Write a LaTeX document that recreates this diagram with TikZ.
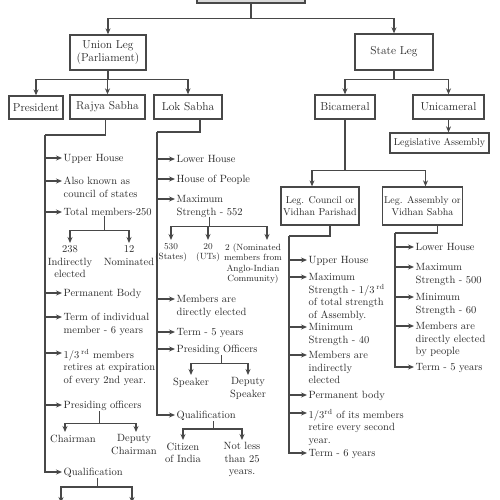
\documentclass[tikz,border=0pt]{standalone}
\usepackage{xcolor}
\usepackage{tikz}
\usetikzlibrary{arrows.meta,calc,positioning}
\definecolor{inkgray}{HTML}{282828}
\definecolor{linegray}{HTML}{484848}
\definecolor{rootfill}{HTML}{D9D9D9}

\begin{document}
\begin{tikzpicture}[
  x=1pt,y=-1pt,
  box/.style={draw=linegray,line width=1.3pt,fill=white,align=center,text=inkgray,
    font=\fontsize{11.5}{13.5}\selectfont,inner sep=2pt},
  legbox/.style={box,font=\fontsize{10}{12.5}\selectfont},
  item/.style={anchor=north west,yshift=3.8pt,align=left,inner xsep=1.5pt,inner ysep=0pt,
    text=inkgray,font=\fontsize{10.5}{12.5}\selectfont},
  leaf/.style={anchor=north,align=center,inner xsep=1pt,inner ysep=2.5pt,text=inkgray,
    font=\fontsize{10.5}{12.5}\selectfont},
  smallleaf/.style={leaf,inner ysep=3.5pt,font=\fontsize{9}{10.3}\selectfont},
  link/.style={draw=linegray,line width=1.1pt},
  edge/.style={link,-{Stealth[length=6pt,width=5pt]}}
]
  \useasboundingbox (0,0) rectangle (500,500);

  \node[box,fill=rootfill,minimum width=108pt,minimum height=30pt] (root) at (251,-12) {};
  \node[box,minimum width=76pt,minimum height=35pt] (ul) at (108,52.5) {Union Leg\\(Parliament)};
  \node[box,minimum width=78pt,minimum height=36pt] (sl) at (394,52) {State Leg};
  \node[box,minimum width=54pt,minimum height=23pt] (pr) at (36,107.5) {President};
  \node[box,minimum width=75pt,minimum height=24pt] (rs) at (107.5,107) {Rajya Sabha};
  \node[box,minimum width=68pt,minimum height=24pt] (ls) at (188,107) {Lok Sabha};
  \node[box,minimum width=60pt,minimum height=24pt] (bc) at (345,107) {Bicameral};
  \node[box,minimum width=71pt,minimum height=24pt] (uc) at (448.5,107) {Unicameral};
  \node[legbox,minimum width=99pt,minimum height=20pt] (la) at (439.5,143) {Legislative Assembly};
  \node[legbox,minimum width=78pt,minimum height=38pt] (lc) at (320,206) {Leg. Council or\\Vidhan Parishad};
  \node[legbox,minimum width=79pt,minimum height=38pt] (lv) at (422.5,206) {Leg. Assembly or\\Vidhan Sabha};

  \draw[link] (root.south) -- ++(0,15) coordinate (rootj);
  \draw[edge] (rootj) -| (ul);
  \draw[edge] (rootj) -| (sl);
  \draw[link] (ul.south) -- ++(0,9) coordinate (ulj);
  \foreach \n in {pr,rs,ls} \draw[edge] (ulj) -| (\n);
  \draw[link] (sl.south) -- ++(0,9) coordinate (slj);
  \foreach \n in {bc,uc} \draw[edge] (slj) -| (\n);
  \draw[edge] (uc.south) -- (uc.south |- la.north);
  \draw[link] (bc.south) -- ++(0,51) coordinate (bcj);
  \draw[edge] (bcj) -| ([xshift=-8pt]lc.north);
  \draw[edge] (bcj) -| ([xshift=3pt]lv.north);

  % Rajya Sabha
  \coordinate (rsk) at (45,135);
  \draw[link] ([xshift=-2pt]rs.south) |- (rsk);
  \foreach \n/\y/\txt in {
    ru1/158/{Upper House},
    ru2/181/{Also known as\\council of states},
    ru3/212/{Total members-250},
    ru4/293/{Permanent Body},
    ru5/317/{Term of individual\\member - 6 years},
    ru6/353/{1/3\,\textsuperscript{rd} members\\retires at expiration\\of every 2nd year.},
    ru7/405/{Presiding officers},
    rq/472/{Qualification}}
    \node[item] (\n) at (62,\y) {\txt};
  \foreach \n in {ru1,ru2,ru3,ru4,ru5,ru6,ru7}
    \draw[edge] ($(rsk |- \n.north)+(0,3.8)$) -- ($(\n.north west)+(0,3.8)$);
  \draw[edge] (rsk) |- ($(rq.north west)+(0,3.8)$);

  \node[leaf] (r238) at (70,243) {238\\Indirectly\\elected};
  \node[leaf] (r12) at (129,243) {12\\Nominated};
  \draw[link] ([xshift=-3pt]ru3.south) -- ++(0,14) coordinate (ru3j);
  \draw[edge] (ru3j) -| (r238);
  \draw[edge] (ru3j) -| (r12);

  \node[leaf] (rch) at (73,432) {Chairman};
  \node[leaf] (rdc) at (134,432) {Deputy\\Chairman};
  \draw[link] ([xshift=-3pt]ru7.south) -- ++(0,12) coordinate (ru7j);
  \draw[edge] (ru7j) -| ([xshift=-8pt]rch.north);
  \draw[edge] (ru7j) -| ([xshift=2pt]rdc.north);

  \coordinate (rqa) at (61,503);
  \coordinate (rqb) at (132,503);
  \draw[link] ([xshift=4pt]rq.south) -- ++(0,9) coordinate (rqj);
  \draw[edge] (rqj) -| (rqa);
  \draw[edge] (rqj) -| (rqb);

  % Lok Sabha
  \coordinate (lsk) at (157,132);
  \draw[link] ([xshift=12pt]ls.south) |- (lsk);
  \foreach \n/\y/\txt in {
    lu1/159/{Lower House},
    lu2/179/{House of People},
    lu3/199/{Maximum\\Strength - 552},
    lu4/299/{Members are\\directly elected},
    lu5/332/{Term - 5 years},
    lu6/349/{Presiding Officers},
    lq/415/{Qualification}}
    \node[item] (\n) at (175,\y) {\txt};
  \foreach \n in {lu1,lu2,lu3,lu4,lu5,lu6}
    \draw[edge] ($(lsk |- \n.north)+(0,3.8)$) -- ($(\n.north west)+(0,3.8)$);
  \draw[edge] (lsk) |- ($(lq.north west)+(0,3.8)$);

  \node[smallleaf] (l530) at (171,240) {530\\(States)};
  \node[smallleaf] (l20) at (208,240) {20\\(UTs)};
  \node[smallleaf] (l2) at (253,240) {2 (Nominated\\members from\\Anglo-Indian\\Community)};
  \draw[link] (lu3.south) -- ++(0,9) coordinate (lu3j);
  \draw[edge] (lu3j) -| (l530);
  \draw[edge] (lu3j) -| (l20);
  \draw[edge] (lu3j) -| ([xshift=14pt]l2.north);

  \node[leaf] (lsp) at (191,375) {Speaker};
  \node[leaf] (ldsp) at (248,375) {Deputy\\Speaker};
  \draw[link] ([xshift=4pt]lu6.south) -- ++(0,8) coordinate (lu6j);
  \draw[edge] (lu6j) -| (lsp);
  \draw[edge] (lu6j) -| (ldsp);

  \node[leaf] (lci) at (183,440) {Citizen\\of India};
  \node[leaf] (lnl) at (242,440) {Not less\\than 25\\years.};
  \draw[link] ([xshift=7pt]lq.south) -- ++(0,8) coordinate (lqj);
  \draw[edge] (lqj) -| (lci);
  \draw[edge] (lqj) -| (lnl);

  % Legislative Council
  \coordinate (lck) at (289,236);
  \draw[link] ([xshift=10pt]lc.south) |- (lck);
  \foreach \n/\y/\txt in {
    cu1/260/{Upper House},
    cu2/277/{Maximum\\Strength - 1/3\,\textsuperscript{rd}\\of total strength\\of Assembly.},
    cu3/327/{Minimum\\Strength - 40},
    cu4/355/{Members are\\indirectly\\elected},
    cu5/395/{Permanent body},
    cu6/413/{1/3\textsuperscript{rd} of its members\\retire every second\\year.},
    cq/453/{Term - 6 years}}
    \node[item] (\n) at (307,\y) {\txt};
  \foreach \n in {cu1,cu2,cu3,cu4,cu5,cu6}
    \draw[edge] ($(lck |- \n.north)+(0,3.8)$) -- ($(\n.north west)+(0,3.8)$);
  \draw[edge] (lck) |- ($(cq.north west)+(0,3.8)$);

  % Legislative Assembly
  \coordinate (lvk) at (395,233);
  \draw[link] ([xshift=15pt]lv.south) |- (lvk);
  \foreach \n/\y/\txt in {
    vu1/247/{Lower House},
    vu2/267/{Maximum\\Strength - 500},
    vu3/297/{Minimum\\Strength - 60},
    vu4/326/{Members are\\directly elected\\by people},
    vq/367/{Term - 5 years}}
    \node[item] (\n) at (414,\y) {\txt};
  \foreach \n in {vu1,vu2,vu3,vu4}
    \draw[edge] ($(lvk |- \n.north)+(0,3.8)$) -- ($(\n.north west)+(0,3.8)$);
  \draw[edge] (lvk) |- ($(vq.north west)+(0,3.8)$);
\end{tikzpicture}
\end{document}
